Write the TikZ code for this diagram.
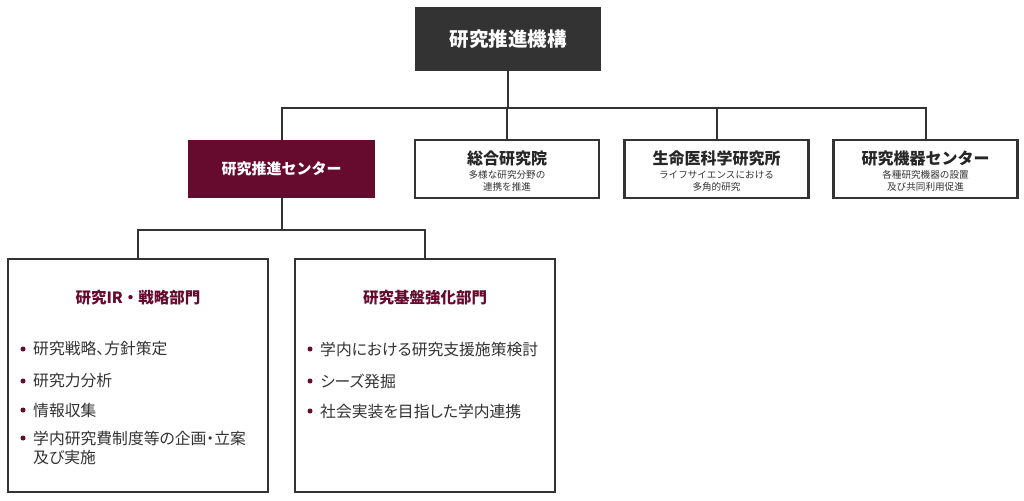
\documentclass[tikz,border=0pt]{standalone}
\usepackage{fontspec}
\setmainfont{Noto Sans CJK JP}
\newfontfamily\jpprop[RawFeature=+palt]{Noto Sans CJK JP}
\usepackage{tikz}
\usetikzlibrary{positioning}

\definecolor{kurotop}{HTML}{333333}
\definecolor{ebicha}{HTML}{660A2E}
\definecolor{sumi}{HTML}{333333}

\begin{document}
\begin{tikzpicture}[x=1pt, y=-1pt,
    % --- styles ---
    conn/.style={draw=kurotop, line width=2pt},
    topbox/.style={fill=kurotop, minimum width=186pt, minimum height=64pt,
        text=white, font=\fontsize{19.5}{22}\selectfont\bfseries},
    centerbox/.style={fill=ebicha, minimum width=187pt, minimum height=58pt,
        text=white, font=\fontsize{15}{17}\selectfont\bfseries},
    orgbox/.style={draw=kurotop, line width=2.4pt, fill=white,
        minimum width=184pt, minimum height=58pt},
    orgtitle/.style={text=black!85, font=\fontsize{16}{18}\selectfont\bfseries},
    orgsub/.style={text=sumi, align=center, font=\fontsize{9.6}{12.5}\selectfont},
    bubox/.style={draw=kurotop, line width=2.2pt, fill=white,
        minimum width=260pt, minimum height=233pt},
    butitle/.style={text=ebicha, font=\fontsize{15.5}{17}\selectfont\bfseries},
    item/.style={anchor=west, text=sumi, align=left, inner sep=0pt,
        font=\jpprop\fontsize{15.8}{19}\selectfont},
    dot/.style={fill=ebicha, circle, inner sep=0pt, minimum size=5pt}
]
    \useasboundingbox (0,0) rectangle (1024,500);

    % --- 上段 ---
    \node[topbox] (kiko) at (508,39) {研究推進機構};

    % --- 中段 ---
    \node[centerbox] (suishin) at (281.5,169) {研究推進センター};

    \node[orgbox] (sogo) at (507,169) {};
    \node[orgtitle] (sogot) at (507,158) {総合研究院};
    \node[orgsub] (sogos) at (507,181) {多様な研究分野の\\連携を推進};

    \node[orgbox] (seimei) at (716.5,169) {};
    \node[orgtitle] (seimeit) at (716.5,158) {生命医科学研究所};
    \node[orgsub] (seimeis) at (716.5,181) {ライフサイエンスにおける\\多角的研究};

    \node[orgbox] (kiki) at (925.5,169) {};
    \node[orgtitle] (kikit) at (925.5,158) {研究機器センター};
    \node[orgsub] (kikis) at (925.5,181) {各種研究機器の設置\\及び共同利用促進};

    % --- 下段 ---
    \node[bubox] (irbu) at (138,375.5) {};
    \node[butitle] (irbut) at (138,298) {研究IR・戦略部門};

    \node[bubox] (kiban) at (425,375.5) {};
    \node[butitle] (kibant) at (425,298) {研究基盤強化部門};

    % 研究IR・戦略部門の項目
    \node[dot] (ird1) at (23,349) {};
    \node[item] (iri1) at (33,349) {研究戦略、方針策定};
    \node[dot] (ird2) at (23,381) {};
    \node[item] (iri2) at (33,381) {研究力分析};
    \node[dot] (ird3) at (23,410) {};
    \node[item] (iri3) at (33,410) {情報収集};
    \node[dot] (ird4) at (23,438) {};
    \node[item] (iri4) at (33,447.5) {学内研究費制度等の企画・立案\\及び実施};

    % 研究基盤強化部門の項目
    \node[dot] (kbd1) at (310,349) {};
    \node[item] (kbi1) at (320,349) {学内における研究支援施策検討};
    \node[dot] (kbd2) at (310,381) {};
    \node[item] (kbi2) at (320,381) {シーズ発掘};
    \node[dot] (kbd3) at (310,411) {};
    \node[item] (kbi3) at (320,411) {社会実装を目指した学内連携};

    % --- 接続線 ---
    \coordinate (bus) at (0,108);
    \coordinate (bus2) at (0,230);
    \draw[conn] (kiko.south) -- (kiko.south |- bus);
    \draw[conn] (suishin.north) -- (suishin.north |- bus) -- (kiki.north |- bus) -- (kiki.north);
    \draw[conn] (sogo.north) -- (sogo.north |- bus);
    \draw[conn] (seimei.north) -- (seimei.north |- bus);
    \draw[conn] (suishin.south) -- (suishin.south |- bus2);
    \draw[conn] (irbu.north) -- (irbu.north |- bus2) -- (kiban.north |- bus2) -- (kiban.north);

\end{tikzpicture}
\end{document}
